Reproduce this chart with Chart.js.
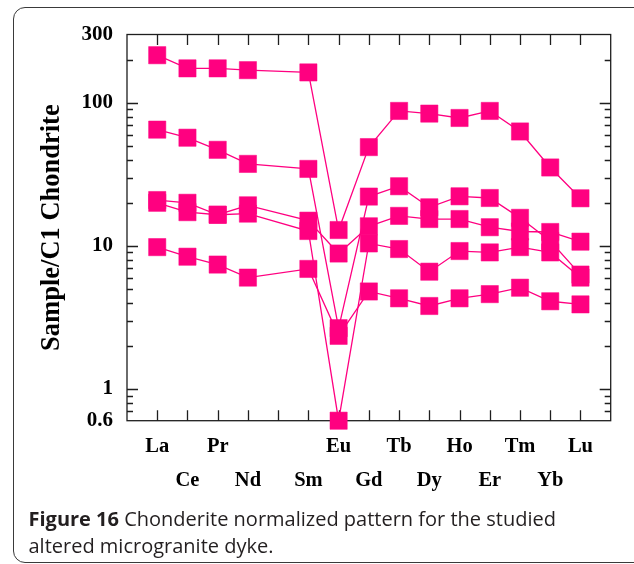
<!DOCTYPE html>
<html>
<head>
<meta charset="utf-8">
<script src="https://cdn.jsdelivr.net/npm/chart.js@4.4.1/dist/chart.umd.min.js"></script>
<style>
html,body{margin:0;padding:0;background:#fff;overflow:hidden;}
#wrap{position:relative;width:634px;height:564px;}
#frame{position:absolute;left:12.5px;top:7px;width:700px;height:556px;border:1.3px solid #3a3a3a;border-radius:12px;box-sizing:border-box;}
#c{position:absolute;left:0;top:0;}
#cap{position:absolute;left:28.5px;top:504.5px;font-family:"Open Sans",sans-serif;font-size:20px;line-height:27px;color:#231f20;white-space:nowrap;letter-spacing:0;}
#cap b{font-weight:700;}
</style>
</head>
<body>
<div id="wrap">
  <div id="frame"></div>
  <canvas id="c" width="634" height="564"></canvas>
  <div id="cap"><b>Figure 16</b> Chonderite normalized pattern for the studied<br>altered microgranite dyke.</div>
</div>
<script>
// Categories (REE, with Pm slot left empty)
const elements = ['La','Ce','Pr','Nd','Pm','Sm','Eu','Gd','Tb','Dy','Ho','Er','Tm','Yb','Lu'];
// Tick labels: row 1 (upper) and row 2 (lower)
const labelRow1 = ['La','','Pr','','','','Eu','','Tb','','Ho','','Tm','','Lu'];
const labelRow2 = ['','Ce','','Nd','','Sm','','Gd','','Dy','','Er','','Yb',''];
// Y-axis tick labels
const yTickValues = [0.6, 1, 10, 100, 300];
const yTickLabels = ['0.6', '1', '10', '100', '300'];
const yMajorMarks = [1, 10, 100];
const yMinorMarks = [0.7,0.8,0.9,2,3,4,5,6,7,8,9,20,30,40,50,60,70,80,90,200];

// Sample / C1 chondrite values
const sample1 = [215, 174, 174, 169, null, 163, 12.9, 49, 87.7, 84, 78.3, 87.7, 63, 35.3, 21.5];
const sample2 = [64.9, 57, 46.9, 37.4, null, 34.5, 2.66, 22.1, 26.1, 18.6, 22.2, 21.6, 15.7, 10.8, 6.3];
const sample3 = [20.9, 20.0, 16.5, 19.2, null, 15.0, 8.84, 13.7, 16.2, 15.4, 15.4, 13.5, 12.6, 12.5, 10.7];
const sample4 = [20.0, 17.2, 16.5, 16.8, null, 12.7, 0.6, 10.4, 9.5, 6.6, 9.2, 9.0, 9.8, 9.0, 6.0];
const sample5 = [9.8, 8.4, 7.4, 6.0, null, 6.9, 2.35, 4.8, 4.3, 3.8, 4.3, 4.6, 5.1, 4.1, 3.9];

const PINK = '#FF0080';
const AXIS = '#1e1e1e';

function makeSet(vals){
  return {
    data: vals.map((v,i)=>({x:i, y:v})),
    borderColor: PINK,
    backgroundColor: PINK,
    borderWidth: 1.3,
    pointStyle: 'rect',
    pointRadius: 12.2,
    pointHoverRadius: 12.2,
    pointBackgroundColor: PINK,
    pointBorderColor: PINK,
    pointBorderWidth: 0.5,
    spanGaps: true,
    tension: 0,
    clip: false
  };
}

const frameTicks = {
  id: 'frameTicks',
  beforeDatasetsDraw(chart){
    const {ctx, chartArea:a, scales:{x, y}} = chart;
    ctx.save();
    ctx.strokeStyle = AXIS;
    ctx.lineWidth = 1.3;
    ctx.strokeRect(a.left, a.top, a.right - a.left, a.bottom - a.top);
    ctx.beginPath();
    elements.forEach((e, i) => {
      const px = Math.round(x.getPixelForValue(i)) + 0.5;
      ctx.moveTo(px, a.bottom); ctx.lineTo(px, a.bottom - 10.5);
      ctx.moveTo(px, a.top); ctx.lineTo(px, a.top + 10.5);
    });
    yMajorMarks.forEach(v => {
      const py = Math.round(y.getPixelForValue(v)) + 0.5;
      ctx.moveTo(a.left, py); ctx.lineTo(a.left + 11, py);
      ctx.moveTo(a.right, py); ctx.lineTo(a.right - 11, py);
    });
    yMinorMarks.forEach(v => {
      const py = Math.round(y.getPixelForValue(v)) + 0.5;
      ctx.moveTo(a.left, py); ctx.lineTo(a.left + 6, py);
      ctx.moveTo(a.right, py); ctx.lineTo(a.right - 6, py);
    });
    ctx.stroke();
    ctx.restore();
  }
};

new Chart(document.getElementById('c'), {
  type: 'line',
  data: { datasets: [sample1, sample2, sample3, sample4, sample5].map(makeSet) },
  options: {
    responsive: false,
    animation: false,
    devicePixelRatio: 1,
    layout: { padding: { left: 0, top: 34.5, right: 23.3, bottom: 0 } },
    plugins: { legend: { display: false }, tooltip: { enabled: false } },
    scales: {
      x: {
        type: 'linear', min: -1, max: 15,
        grid: { display: false, drawTicks: false }, border: { display: false },
        afterBuildTicks: s => { s.ticks = elements.map((e, i) => ({ value: i })); },
        afterFit: s => { s.height = 143.3; },
        ticks: {
          autoSkip: false, maxRotation: 0, minRotation: 0, padding: 10,
          color: '#000',
          font: { family: 'Liberation Serif', size: 20.5, weight: 'bold', lineHeight: 1.61 },
          callback: (v) => {
            const i = Math.round(v);
            if (labelRow1[i]) return [labelRow1[i], ''];
            if (labelRow2[i]) return ['', labelRow2[i]];
            return '';
          }
        }
      },
      y: {
        type: 'logarithmic', min: 0.6, max: 300,
        grid: { display: false, drawTicks: false }, border: { display: false },
        afterBuildTicks: s => { s.ticks = yTickValues.map(v => ({ value: v })); },
        afterFit: s => { s.width = 127; },
        ticks: {
          padding: 14, color: '#000',
          font: { family: 'Liberation Serif', size: 21, weight: 'bold' },
          callback: (v, i) => yTickLabels[i]
        },
        title: {
          display: true, text: 'Sample/C1 Chondrite', color: '#000',
          font: { family: 'Liberation Serif', size: 26.5, weight: 'bold', lineHeight: 1.2 },
          padding: { top: 36, bottom: 0 }
        }
      }
    }
  },
  plugins: [frameTicks]
});
</script>
</body>
</html>
